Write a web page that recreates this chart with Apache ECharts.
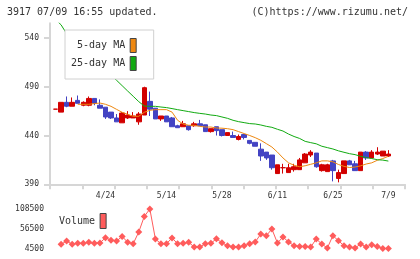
<!DOCTYPE html>
<html>
<head>
<meta charset="utf-8">
<script src="https://cdn.jsdelivr.net/npm/echarts@6/dist/echarts.min.js"></script>
<style>
html,body{margin:0;padding:0;background:#fff;}
#chart{width:420px;height:259px;}
</style>
</head>
<body>
<div id="chart"></div>
<script>
// ---- data ----
const dates = ['4/11','4/12','4/15','4/16','4/17','4/18','4/19','4/22','4/23','4/24','4/25','4/26','4/30',
  '5/1','5/2','5/7','5/8','5/9','5/10','5/13','5/14','5/15','5/16','5/17','5/20','5/21','5/22','5/23','5/24','5/27','5/28','5/29','5/30','5/31',
  '6/3','6/4','6/5','6/6','6/7','6/10','6/11','6/12','6/13','6/14','6/17','6/18','6/19','6/20','6/21','6/24','6/25','6/26','6/27','6/28',
  '7/1','7/2','7/3','7/4','7/5','7/8','7/9'];
const shownDates = ['4/24','5/14','5/28','6/11','6/25','7/9'];

const opens  = [467,464,474,470,476,471,471,478,471,469,464,458,453,458,458,454,461,475,468,457,460,458,450,449,450,450,452,451,444,449,446,440,440,436,441,435,433,426,423,420,401,407,402,405,405,412,420,422,404,403,414,396,401,414,411,404,423,417,421,419,419];
const closes = [467,474,470,474,473,474,478,473,468,459,458,454,463,461,460,462,489,467,457,460,454,449,448,452,446,452,450,444,447,445,440,443,438,439,438,432,429,419,417,407,410,407,407,408,415,421,423,408,410,410,404,402,414,410,404,423,417,423,423,424,421];
const lows   = [467,464,469,470,473,470,470,471,468,457,457,454,453,457,458,451,461,460,457,455,454,449,448,449,445,449,450,444,443,440,439,440,438,435,436,431,429,414,415,405,401,401,402,403,405,412,418,407,403,403,393,392,401,410,404,404,415,417,420,419,418];
const highs  = [467,474,480,479,481,475,480,478,477,469,464,462,464,465,464,464,490,485,468,460,460,459,451,455,450,454,456,451,447,449,446,443,444,441,441,435,433,432,423,420,410,411,411,411,417,422,425,422,411,411,415,405,414,415,414,423,424,425,428,424,425];

const ma5  = [null,null,null,null,472,472,472,472.7,473.3,472,469.9,466.8,463.8,461.7,459.7,459.7,463.8,465.8,466.5,466.5,466.5,464,455.6,451.8,450.5,450.5,449.4,448.7,448.7,447.7,447.5,447,446,444,442,440,437.8,435.1,431.7,428.2,423,417,412,409.5,408,409,410.5,412,414,414,413,410.3,408.4,407.2,407.7,408.9,410.8,412,414.6,416.4,418.7];
const ma25 = [559,553.4,544.3,539.2,533.8,528.6,523.1,518,512.6,507.4,501.8,496.6,491.1,485.6,480.2,474.7,470.2,469.9,469.9,469.2,468.6,467.6,466.5,465.5,464.5,463.5,462.7,462,461,460.4,459,457.6,455.6,454.2,453.2,452.2,451.8,450.8,449.4,448.4,446.4,444.6,441.5,439,437,434,432.7,431.5,429,427.6,426.2,424.3,422.8,421.4,420.4,418.7,417.4,416.4,415.2,414.8,413.8];
const volume = [null,15600,24200,15600,18000,18000,20800,18000,19300,32600,26500,24000,36400,20800,17100,48000,89000,108500,29500,17100,17100,32200,17100,18000,20800,8400,8400,17100,18000,30300,19500,11900,8400,8400,11900,17100,21600,42700,38200,55800,19000,34800,21600,11900,10000,10000,8400,29500,16300,5800,38200,25000,11900,8400,5800,16300,8400,14500,10000,4500,4500];

const priceTicks = [390,440,490,540];
const volTicks = [4500,56500,108500];

// ---- build ----
const PAD_L = 1, PAD_R = 3;
const padArr = (arr, empty) => [...Array(PAD_L).fill(empty), ...arr.map(v => v == null ? '-' : v), ...Array(PAD_R).fill(empty)];
const cats = padArr(dates, '');
const candles = padArr(dates.map((d, i) => [opens[i], closes[i], lows[i], highs[i]]), ['-','-','-','-']);

const FONT = 'DejaVu Sans Mono';
const TXT = '#333';
const AX = '#d6d6d6';

const chart = echarts.init(document.getElementById('chart'), null, {renderer: 'canvas'});
chart.setOption({
  animation: false,
  backgroundColor: '#fff',
  title: [
    {text: '3917 07/09 16:55 updated.', left: 7, top: 7, padding: 0,
     textStyle: {fontFamily: FONT, fontSize: 10, fontWeight: 'normal', color: TXT}},
    {text: '(C)https://www.rizumu.net/', right: 12, top: 7, padding: 0,
     textStyle: {fontFamily: FONT, fontSize: 10, fontWeight: 'normal', color: TXT}}
  ],
  legend: [
    {data: ['5-day MA', '25-day MA'], orient: 'vertical', align: 'right',
     left: 65, top: 30, padding: [8, 17, 8, 6], itemWidth: 6, itemHeight: 14, itemGap: 3,
     icon: 'rect', backgroundColor: '#fff', borderColor: '#d0d0d0', borderWidth: 1,
     itemStyle: {borderColor: '#444', borderWidth: 1}, selectedMode: false,
     textStyle: {fontFamily: FONT, fontSize: 10, color: TXT}},
    {data: ['Volume'], orient: 'horizontal', align: 'right', left: 59, top: 213, padding: 0,
     itemWidth: 6, itemHeight: 15, icon: 'rect', selectedMode: false,
     itemStyle: {borderColor: '#444', borderWidth: 1},
     textStyle: {fontFamily: FONT, fontSize: 10, color: TXT}}
  ],
  grid: [
    {left: 50, right: 15, top: 23.3, bottom: 74.7},
    {left: 50, right: 15, top: 209, bottom: 10.5}
  ],
  xAxis: [
    {type: 'category', gridIndex: 0, data: cats, boundaryGap: false,
     axisLine: {onZero: false, lineStyle: {color: AX, width: 2}},
     axisTick: {show: false},
     axisLabel: {interval: (i, v) => shownDates.includes(v), fontFamily: FONT, fontSize: 8, color: TXT, margin: 8},
     splitLine: {show: false}},
    {type: 'value', gridIndex: 0, position: 'bottom', min: 0, max: 11, interval: 1,
     axisLine: {show: false, onZero: false},
     axisTick: {show: true, length: 5, lineStyle: {color: AX, width: 2}},
     axisLabel: {show: false}, splitLine: {show: false}},
    {type: 'category', gridIndex: 1, data: cats, boundaryGap: false, show: false}
  ],
  yAxis: [
    {type: 'value', gridIndex: 0, min: 390, max: 555,
     axisLine: {show: true, onZero: false, lineStyle: {color: AX, width: 2}},
     axisTick: {show: true, customValues: priceTicks, length: 6, lineStyle: {color: AX, width: 2}},
     axisLabel: {customValues: priceTicks, formatter: v => String(v), fontFamily: FONT, fontSize: 8, color: TXT, margin: 11},
     splitLine: {show: false}},
    {type: 'value', gridIndex: 1, min: 4500, max: 108500,
     axisLine: {show: false}, axisTick: {show: false},
     axisLabel: {customValues: volTicks, formatter: v => String(v), fontFamily: FONT, fontSize: 8, color: TXT, margin: 6},
     splitLine: {show: false}}
  ],
  series: [
    {name: 'Price', type: 'candlestick', xAxisIndex: 0, yAxisIndex: 0, data: candles, barWidth: 5,
     itemStyle: {color: '#d20000', color0: '#4343c3', borderColor: '#d20000', borderColor0: '#4343c3',
                 borderColorDoji: '#d20000', borderWidth: 1}},
    {name: '5-day MA', type: 'line', xAxisIndex: 0, yAxisIndex: 0, data: padArr(ma5, '-'),
     symbol: 'none', color: '#ee8811', lineStyle: {width: 1, color: '#ee8811'}, z: 3},
    {name: '25-day MA', type: 'line', xAxisIndex: 0, yAxisIndex: 0, data: padArr(ma25, '-'),
     symbol: 'none', color: '#11aa11', lineStyle: {width: 1, color: '#11aa11'}, z: 3},
    {name: 'Volume', type: 'line', xAxisIndex: 2, yAxisIndex: 1, data: padArr(volume, '-'),
     symbol: 'diamond', symbolSize: 7, showAllSymbol: true, color: '#ff5c5c',
     lineStyle: {width: 1, color: '#ff5c5c'}, itemStyle: {color: '#ff5c5c'}}
  ]
});
</script>
</body>
</html>
